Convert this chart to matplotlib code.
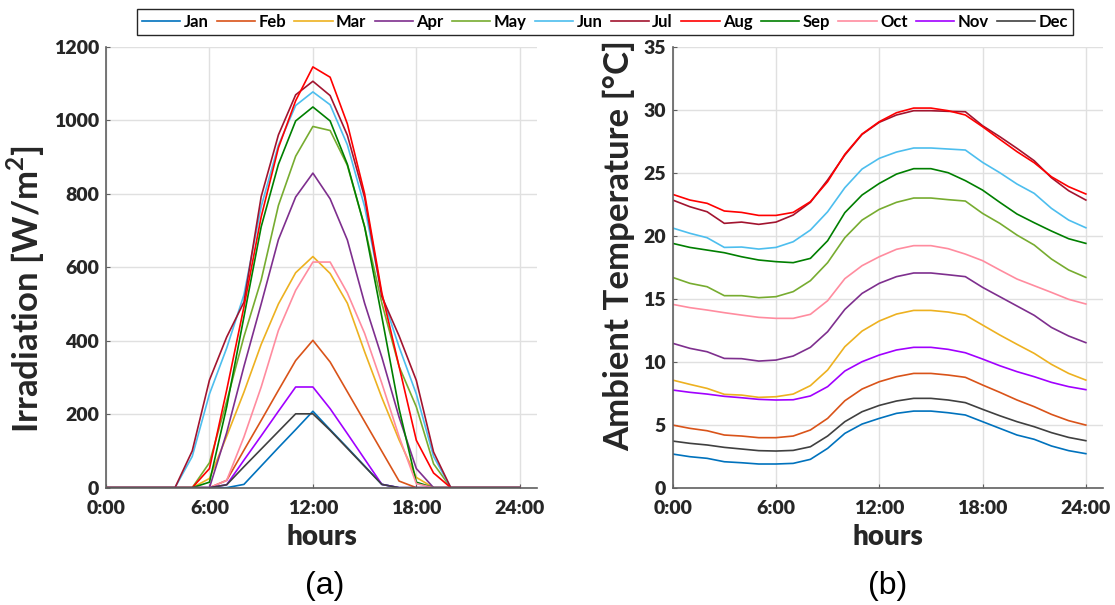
import numpy as np
import matplotlib
matplotlib.use('Agg')
import matplotlib.pyplot as plt

plt.rcParams['font.family'] = ['Lato', 'DejaVu Sans']
plt.rcParams['font.weight'] = 'bold'
plt.rcParams['mathtext.fontset'] = 'custom'
plt.rcParams['mathtext.rm'] = 'Lato:bold'
plt.rcParams['mathtext.bf'] = 'Lato:bold'

hours = np.arange(0, 25)
months = ['Jan', 'Feb', 'Mar', 'Apr', 'May', 'Jun', 'Jul', 'Aug', 'Sep', 'Oct', 'Nov', 'Dec']
colors = ['#0072BD', '#D95319', '#EDB120', '#7E2F8E', '#77AC30', '#4DBEEE',
          '#A2142F', '#FF0000', '#007F00', '#FF8C9F', '#A100FF', '#404040']

xtick_pos = [0, 6, 12, 18, 24]
xtick_lab = ['0:00', '6:00', '12:00', '18:00', '24:00']
irr_ticks = [0, 200, 400, 600, 800, 1000, 1200]
temp_ticks = [0, 5, 10, 15, 20, 25, 30, 35]

# irradiation W/m2, hourly 0..24
jan_irr = [0,0,0,0,0,0,0,0,9,59,109,158,208,158,109,59,9,0,0,0,0,0,0,0,0]
feb_irr = [0,0,0,0,0,0,0,20,102,183,265,346,401,342,261,180,99,18,0,0,0,0,0,0,0]
mar_irr = [0,0,0,0,0,0,25,140,260,390,500,585,629,583,502,370,245,130,28,0,0,0,0,0,0]
apr_irr = [0,0,0,0,0,0,0,150,330,500,675,791,856,786,674,502,355,192,52,0,0,0,0,0,0]
may_irr = [0,0,0,0,0,0,68,235,411,565,768,902,983,972,877,710,502,330,220,65,0,0,0,0,0]
jun_irr = [0,0,0,0,0,85,255,380,525,765,932,1040,1077,1042,933,765,525,383,255,85,0,0,0,0,0]
jul_irr = [0,0,0,0,0,100,293,410,505,792,960,1069,1106,1067,959,790,520,413,292,97,0,0,0,0,0]
aug_irr = [0,0,0,0,0,0,52,266,492,737,925,1053,1145,1117,990,800,530,330,129,40,0,0,0,0,0]
sep_irr = [0,0,0,0,0,0,15,220,465,710,880,998,1036,998,880,710,465,215,15,0,0,0,0,0,0]
oct_irr = [0,0,0,0,0,0,0,20,138,274,428,537,614,614,530,420,284,139,11,0,0,0,0,0,0]
nov_irr = [0,0,0,0,0,0,0,8,75,141,208,274,274,215,147,78,9,0,0,0,0,0,0,0,0]
dec_irr = [0,0,0,0,0,0,0,8,57,105,153,201,201,156,107,58,9,0,0,0,0,0,0,0,0]

# ambient temperature degC, hourly 0..24
jan_t = [2.67,2.46,2.33,2.06,1.98,1.88,1.88,1.93,2.25,3.12,4.31,5.05,5.5,5.9,6.08,6.08,5.95,5.77,5.24,4.71,4.18,3.84,3.31,2.94,2.7]
feb_t = [4.97,4.71,4.52,4.18,4.1,3.97,3.97,4.1,4.58,5.5,6.9,7.83,8.41,8.81,9.07,9.07,8.94,8.76,8.15,7.57,6.96,6.43,5.82,5.32,4.97]
mar_t = [8.54,8.2,7.88,7.41,7.35,7.17,7.22,7.43,8.1,9.34,11.19,12.43,13.23,13.78,14.07,14.07,13.94,13.7,12.91,12.12,11.38,10.66,9.79,9.07,8.54]
apr_t = [11.46,11.06,10.79,10.26,10.24,10.05,10.13,10.45,11.14,12.38,14.15,15.42,16.22,16.75,17.04,17.04,16.9,16.75,15.9,15.16,14.42,13.68,12.72,12.04,11.51]
may_t = [16.69,16.22,15.95,15.24,15.24,15.08,15.16,15.56,16.43,17.86,19.84,21.24,22.09,22.65,22.99,22.99,22.86,22.75,21.77,20.98,20.05,19.26,18.15,17.28,16.69]
jun_t = [20.61,20.19,19.84,19.07,19.1,18.94,19.07,19.52,20.45,21.9,23.81,25.29,26.14,26.64,26.96,26.96,26.88,26.8,25.82,25.0,24.1,23.36,22.17,21.24,20.63]
jul_t = [22.83,22.3,21.9,20.98,21.08,20.9,21.08,21.64,22.65,24.42,26.4,28.04,29.0,29.58,29.92,29.92,29.87,29.84,28.73,27.86,26.93,25.95,24.6,23.57,22.83]
aug_t = [23.28,22.83,22.57,21.96,21.85,21.61,21.61,21.85,22.7,24.29,26.46,28.07,29.05,29.76,30.13,30.13,29.92,29.58,28.65,27.65,26.67,25.79,24.68,23.89,23.31]
sep_t = [19.39,19.07,18.86,18.65,18.33,18.07,17.94,17.86,18.2,19.6,21.83,23.23,24.15,24.89,25.32,25.32,25.0,24.37,23.62,22.65,21.72,21.03,20.37,19.76,19.39]
oct_t = [14.55,14.29,14.1,13.89,13.7,13.52,13.44,13.44,13.76,14.84,16.59,17.62,18.33,18.92,19.21,19.21,18.97,18.54,18.02,17.28,16.56,16.03,15.5,14.95,14.58]
nov_t = [7.75,7.57,7.43,7.25,7.14,7.01,6.96,6.98,7.28,8.02,9.26,10.0,10.53,10.93,11.14,11.14,10.98,10.71,10.21,9.68,9.21,8.81,8.36,8.02,7.78]
dec_t = [3.7,3.52,3.39,3.2,3.07,2.94,2.91,2.96,3.25,4.1,5.24,6.03,6.53,6.88,7.09,7.09,6.96,6.75,6.22,5.71,5.24,4.84,4.37,3.99,3.73]

irr = [jan_irr, feb_irr, mar_irr, apr_irr, may_irr, jun_irr,
       jul_irr, aug_irr, sep_irr, oct_irr, nov_irr, dec_irr]
temp = [jan_t, feb_t, mar_t, apr_t, may_t, jun_t,
        jul_t, aug_t, sep_t, oct_t, nov_t, dec_t]

fig = plt.figure(figsize=(11.15, 6.05), dpi=100)
ax1 = fig.add_axes([0.0951, 0.1939, 0.3865, 0.7289])
ax2 = fig.add_axes([0.6033, 0.1939, 0.386, 0.7289])

lines = []
for i in range(12):
    l, = ax1.plot(hours, irr[i], color=colors[i], lw=1.2, label=months[i])
    lines.append(l)
    ax2.plot(hours, temp[i], color=colors[i], lw=1.2)

ax1.set_ylim(0, 1200)
ax1.set_yticks(irr_ticks)
ax2.set_ylim(0, 35)
ax2.set_yticks(temp_ticks)

for ax in (ax1, ax2):
    ax.set_xlim(0, 25)
    ax.set_xticks(xtick_pos, xtick_lab)
    ax.grid(True, color='#e0e0e0', lw=1)
    ax.set_axisbelow(True)
    for s in ('top', 'right'):
        ax.spines[s].set_visible(False)
    for s in ('left', 'bottom'):
        ax.spines[s].set_color('#606060')
        ax.spines[s].set_linewidth(1.2)
    ax.tick_params(direction='in', length=3, color='#606060', labelsize=14,
                   labelcolor='#262626')
    ax.tick_params(axis='x', pad=9)
    ax.tick_params(axis='y', pad=5)
    plt.setp(ax.get_xticklabels() + ax.get_yticklabels(), fontweight='heavy')
    ax.set_xlabel('hours', fontsize=20, fontweight='heavy', color='#262626', labelpad=5)

ax1.set_ylabel(r'Irradiation [W/m$^{\mathbf{2}}$]', fontsize=25, fontweight='bold',
               color='#262626', labelpad=5)
ax1.yaxis.label.set_y(0.45)
ax2.set_ylabel('Ambient Temperature [°C]', fontsize=25, fontweight='bold',
               color='#262626', labelpad=6)
ax2.yaxis.label.set_y(0.55)

fig.legend(lines, months, loc='center', bbox_to_anchor=(0.5426, 0.9636), ncol=12,
           prop={'size': 12, 'weight': 'bold'}, handlelength=2.3, handletextpad=0.2,
           columnspacing=0.5, borderpad=0.3, frameon=True, fancybox=False,
           edgecolor='#262626', framealpha=1)

fig.text(0.2915, 0.032, '(a)', fontsize=23, fontweight='normal',
         family='Liberation Sans', ha='center', va='center')
fig.text(0.7963, 0.032, '(b)', fontsize=23, fontweight='normal',
         family='Liberation Sans', ha='center', va='center')

fig.savefig('out.png', dpi=100)
